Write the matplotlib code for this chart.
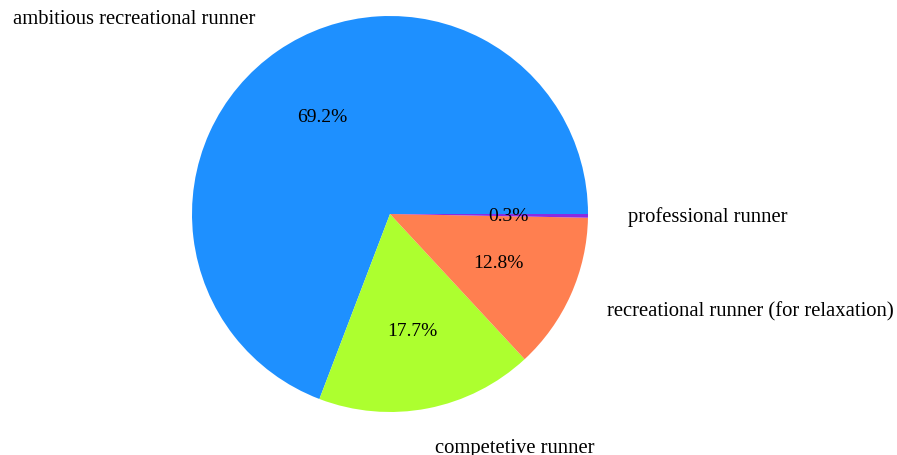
import matplotlib
matplotlib.use("Agg")
import matplotlib.pyplot as plt

categories = ["ambitious recreational runner", "competetive runner",
              "recreational runner (for relaxation)", "professional runner"]
values = [69.2, 17.7, 12.8, 0.3]
colors = ["dodgerblue", "greenyellow", "coral", "blueviolet"]

plt.rcParams['font.family'] = ['Liberation Serif', 'DejaVu Serif']

W, H = 897, 456
fig = plt.figure(figsize=(W / 100, H / 100), dpi=100)
ax = fig.add_axes([0, 0, 1, 1])
wedges, texts, autotexts = ax.pie(values, labels=categories, colors=colors, autopct='%1.1f%%',
       startangle=0, counterclock=True, labeldistance=1.2, pctdistance=0.6,
       textprops={'fontsize': 14})
for t in texts:
    t.set_fontsize(14.9)
cx, cy, r = 390, 215, 198
ax.set_xlim(-cx / r, (W - cx) / r)
ax.set_ylim(-(H - cy) / r, cy / r)
ax.set_aspect('auto')
ax.axis('off')
fig.savefig("out.png", dpi=100)
